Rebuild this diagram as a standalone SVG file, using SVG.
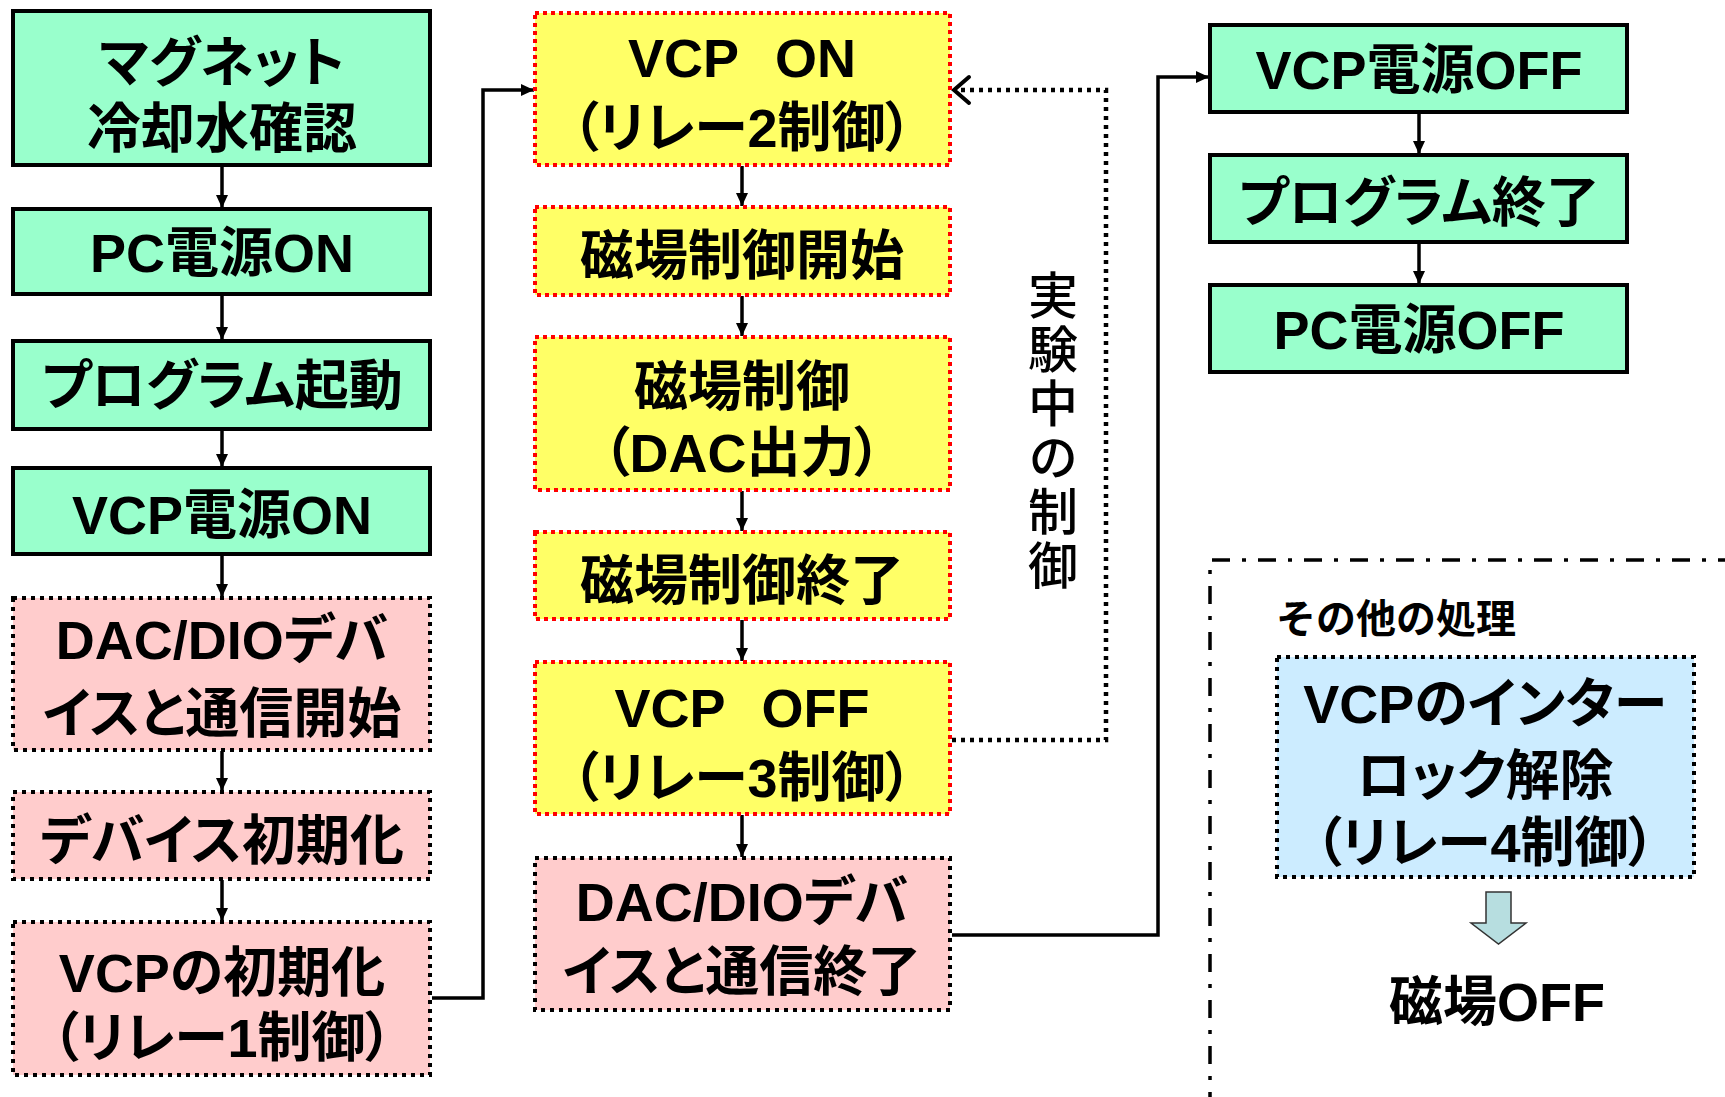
<svg xmlns="http://www.w3.org/2000/svg" width="1725" height="1097" viewBox="0 0 1725 1097">
<defs>
<marker id="ah" markerUnits="userSpaceOnUse" markerWidth="14" markerHeight="14" viewBox="0 0 14 14" refX="13" refY="7" orient="auto">
<path d="M0,1 L13,7 L0,13 Z" fill="#000"/>
</marker>
<style>
.t{font-family:"Liberation Sans","Noto Sans CJK JP",sans-serif;font-weight:bold;font-size:54px;text-anchor:middle;fill:#000;font-feature-settings:"palt";}
.green{fill:#99FFCC;stroke:#000;stroke-width:4;}
.pink{fill:#FFCCCC;stroke:#000;stroke-width:4;stroke-dasharray:4 5;}
.yellow{fill:#FFFF66;stroke:#FF0000;stroke-width:4;stroke-dasharray:4 4;}
.blue{fill:#CCECFF;stroke:#000;stroke-width:4;stroke-dasharray:4 5;}
.c{fill:none;stroke:#000;stroke-width:3.5;}
.a{marker-end:url(#ah);}
</style>
</defs>

<g id="connectors">
<line class="c a" x1="222" y1="166" x2="222" y2="208"/>
<line class="c a" x1="222" y1="295" x2="222" y2="340"/>
<line class="c a" x1="222" y1="430" x2="222" y2="467"/>
<line class="c a" x1="222" y1="555" x2="222" y2="597"/>
<line class="c a" x1="222" y1="751" x2="222" y2="791"/>
<line class="c a" x1="222" y1="880" x2="222" y2="921"/>
<polyline class="c a" points="432,998 483,998 483,90 534,90"/>
<line class="c a" x1="742" y1="166" x2="742" y2="206"/>
<line class="c a" x1="742" y1="296" x2="742" y2="336"/>
<line class="c a" x1="742" y1="491" x2="742" y2="531"/>
<line class="c a" x1="742" y1="620" x2="742" y2="661"/>
<line class="c a" x1="742" y1="815" x2="742" y2="857"/>
<polyline class="c a" points="952,935 1158,935 1158,77 1209,77"/>
<line class="c a" x1="1419" y1="113" x2="1419" y2="154"/>
<line class="c a" x1="1419" y1="243" x2="1419" y2="284"/>
<polyline fill="none" stroke="#000" stroke-width="4.5" stroke-dasharray="4 5" points="952,740 1106,740 1106,90 958,90"/>
<path d="M969,77 L954,90 L969,103" fill="none" stroke="#000" stroke-width="4" stroke-linecap="round" stroke-linejoin="miter"/>
</g>

<g id="n1"><rect class="green" x="13" y="11" width="417" height="154"/><text class="t" x="222" y="82">マグネット</text><text class="t" x="222" y="148">冷却水確認</text></g>
<g id="n2"><rect class="green" x="13" y="209" width="417" height="85"/><text class="t" x="222" y="272">PC電源ON</text></g>
<g id="n3"><rect class="green" x="13" y="341" width="417" height="88"/><text class="t" x="222" y="405">プログラム起動</text></g>
<g id="n4"><rect class="green" x="13" y="468" width="417" height="86"/><text class="t" x="222" y="534">VCP電源ON</text></g>
<g id="n5"><rect class="pink" x="13" y="598" width="417" height="152"/><text class="t" x="222" y="659">DAC/DIOデバ</text><text class="t" x="222" y="733">イスと通信開始</text></g>
<g id="n6"><rect class="pink" x="13" y="792" width="417" height="87"/><text class="t" x="222" y="860">デバイス初期化</text></g>
<g id="n7"><rect class="pink" x="13" y="922" width="417" height="153"/><text class="t" x="222" y="992">VCPの初期化</text><text class="t" x="222" y="1057">（リレー1制御）</text></g>

<g id="n8"><rect class="yellow" x="535" y="13" width="415" height="152"/><text class="t" x="742" y="77">VCP <tspan dx="22">ON</tspan></text><text class="t" x="742" y="147">（リレー2制御）</text></g>
<g id="n9"><rect class="yellow" x="535" y="207" width="415" height="88"/><text class="t" x="742" y="275">磁場制御開始</text></g>
<g id="n10"><rect class="yellow" x="535" y="337" width="415" height="153"/><text class="t" x="742" y="406">磁場制御</text><text class="t" x="742" y="472">（DAC出力）</text></g>
<g id="n11"><rect class="yellow" x="535" y="532" width="415" height="87"/><text class="t" x="742" y="600">磁場制御終了</text></g>
<g id="n12"><rect class="yellow" x="535" y="662" width="415" height="152"/><text class="t" x="742" y="727">VCP <tspan dx="22">OFF</tspan></text><text class="t" x="742" y="797">（リレー3制御）</text></g>
<g id="n13"><rect class="pink" x="535" y="858" width="415" height="152"/><text class="t" x="742" y="921">DAC/DIOデバ</text><text class="t" x="742" y="991">イスと通信終了</text></g>

<g id="loop-label"><text x="1053" y="432" writing-mode="vertical-rl" text-anchor="middle" style="font-family:'Noto Sans CJK JP',sans-serif;font-weight:500;font-size:50px;letter-spacing:4px;fill:#000;">実験中の制御</text></g>

<g id="n14"><rect class="green" x="1210" y="25" width="417" height="87"/><text class="t" x="1419" y="89">VCP電源OFF</text></g>
<g id="n15"><rect class="green" x="1210" y="155" width="417" height="87"/><text class="t" x="1419" y="222">プログラム終了</text></g>
<g id="n16"><rect class="green" x="1210" y="285" width="417" height="87"/><text class="t" x="1419" y="349">PC電源OFF</text></g>

<g id="other">
<polyline fill="none" stroke="#000" stroke-width="3.5" stroke-dasharray="18 12 4 12" points="1210,1110 1210,560 1740,560"/>
<text x="1276" y="633" style="font-family:'Noto Sans CJK JP',sans-serif;font-weight:bold;font-size:40px;fill:#000;">その他の処理</text>
</g>
<g id="n17"><rect class="blue" x="1277" y="657" width="417" height="220"/><text class="t" x="1485" y="723">VCPのインター</text><text class="t" x="1485" y="795">ロック解除</text><text class="t" x="1485" y="862">（リレー4制御）</text></g>
<g id="blockarrow"><path d="M1486,892 L1511,892 L1511,923 L1526,923 L1498.5,944 L1471,923 L1486,923 Z" fill="#B7DEE0" stroke="#333" stroke-width="1.5"/></g>
<g id="n18"><text class="t" x="1497" y="1021">磁場OFF</text></g>
</svg>
